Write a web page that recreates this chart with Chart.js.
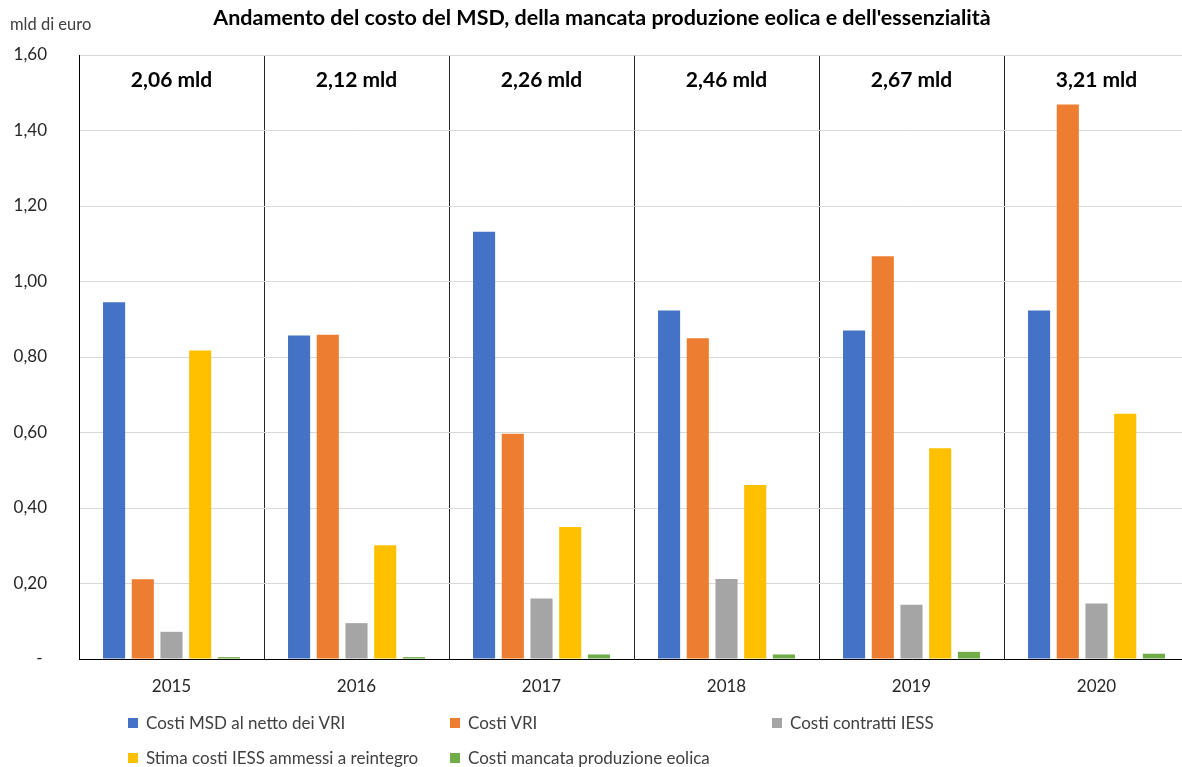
<!DOCTYPE html>
<html>
<head>
<meta charset="utf-8">
<script src="https://cdn.jsdelivr.net/npm/chart.js@4.4.1/dist/chart.umd.min.js"></script>
<style>
  body { margin: 0; background: #fff; overflow: hidden; font-family: Lato, "Noto Sans", sans-serif; }
  #wrap { position: absolute; left: 0; top: 0; width: 1182px; height: 767px; overflow: hidden; }
  #c { position: absolute; left: 0; top: 0; }
  #titolo { position: absolute; left: 0; width: 1204px; top: 4px; text-align: center; font-weight: bold; font-size: 21.5px; color: #000; }
  #unita { position: absolute; left: 10px; top: 14px; font-size: 16.5px; color: #404040; }
  .leg { position: absolute; font-size: 17px; color: #404040; white-space: nowrap; }
  .leg span { display: inline-block; width: 10px; height: 10px; margin-right: 8px; vertical-align: 1px; }
</style>
</head>
<body>
<div id="wrap">
  <canvas id="c" width="1192" height="767"></canvas>
  <div id="titolo">Andamento del costo del MSD, della mancata produzione eolica e dell'essenzialità</div>
  <div id="unita">mld di euro</div>
  <div id="legenda"></div>
</div>
<script>
// valori in mld di euro
const anni = ['2015', '2016', '2017', '2018', '2019', '2020'];
const costiMSD = [0.945, 0.857, 1.132, 0.923, 0.870, 0.923];
const costiVRI = [0.211, 0.859, 0.597, 0.850, 1.067, 1.469];
const contrattiIESS = [0.072, 0.095, 0.160, 0.212, 0.144, 0.147];
const stimaIESS = [0.817, 0.301, 0.350, 0.461, 0.558, 0.650];
const mancataEolica = [0.005, 0.005, 0.012, 0.012, 0.019, 0.014];
const totali = [2.06, 2.12, 2.26, 2.46, 2.67, 3.21];

const serie = [
  { label: 'Costi MSD al netto dei VRI', data: costiMSD, backgroundColor: '#4472C4' },
  { label: 'Costi VRI', data: costiVRI, backgroundColor: '#ED7D31' },
  { label: 'Costi contratti IESS', data: contrattiIESS, backgroundColor: '#A5A5A5' },
  { label: 'Stima costi IESS ammessi a reintegro', data: stimaIESS, backgroundColor: '#FFC000' },
  { label: 'Costi mancata produzione eolica', data: mancataEolica, backgroundColor: '#70AD47' }
];

const virgola = (v, d) => v.toFixed(d).replace('.', ',');

// totali annuali sopra ogni anno
const totaliPlugin = {
  id: 'totali',
  afterDatasetsDraw(chart) {
    const ctx = chart.ctx;
    const x = chart.scales.x;
    ctx.save();
    ctx.font = 'bold 21px Lato';
    ctx.fillStyle = '#000';
    ctx.textAlign = 'center';
    ctx.textBaseline = 'middle';
    totali.forEach((t, i) => {
      ctx.fillText(virgola(t, 2) + ' mld', x.getPixelForValue(i), 80);
    });
    ctx.restore();
  }
};

const chart = new Chart(document.getElementById('c'), {
  type: 'bar',
  data: {
    labels: anni,
    datasets: serie.map(s => ({
      ...s,
      categoryPercentage: 0.776,
      barPercentage: 0.77
    }))
  },
  options: {
    responsive: false,
    animation: false,
    layout: { padding: { top: 55, right: 3, bottom: 0, left: 0 } },
    plugins: {
      legend: { display: false },
      tooltip: { enabled: false }
    },
    scales: {
      x: {
        afterFit: s => { s.height = 108; },
        grid: { offset: true, color: '#262626', lineWidth: 1, drawTicks: false },
        border: { color: '#000', width: 1 },
        ticks: { padding: 17, color: '#262626', font: { family: 'Lato', size: 17 } }
      },
      y: {
        min: 0,
        max: 1.6,
        afterFit: s => { s.width = 79; },
        grid: { color: '#D9D9D9', lineWidth: 1, drawTicks: false },
        border: { color: '#000', width: 1 },
        ticks: {
          stepSize: 0.2,
          padding: 32,
          color: '#262626',
          font: { family: 'Lato', size: 17 },
          callback: v => v === 0 ? '- ' : virgola(v, 2)
        }
      }
    }
  },
  plugins: [totaliPlugin]
});

// legenda a colonne come in Excel
const colonne = [128, 450, 772];
const righe = [712, 747];
const legenda = document.getElementById('legenda');
chart.data.datasets.forEach((ds, i) => {
  const el = document.createElement('div');
  el.className = 'leg';
  el.style.left = colonne[i % 3] + 'px';
  el.style.top = righe[Math.floor(i / 3)] + 'px';
  el.innerHTML = '<span style="background:' + ds.backgroundColor + '"></span>' + ds.label;
  legenda.appendChild(el);
});
</script>
</body>
</html>
